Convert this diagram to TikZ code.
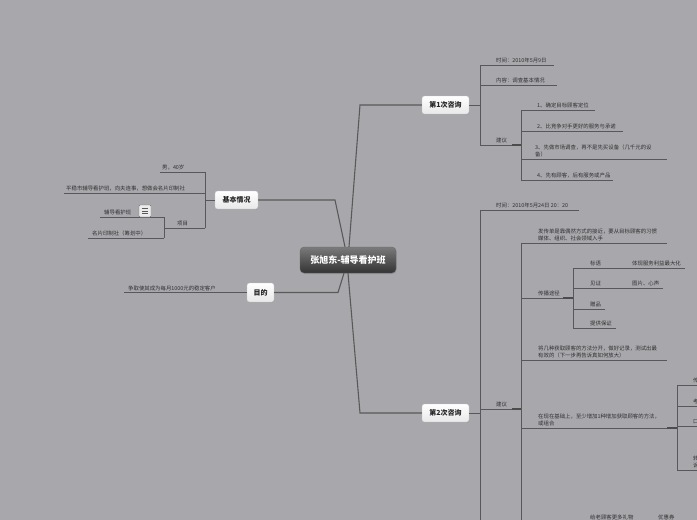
\documentclass[tikz,border=0pt]{standalone}
\usepackage{fontspec}
\setmainfont{Noto Sans CJK SC}
\usetikzlibrary{shadows}
\definecolor{bg}{HTML}{A8A8AC}
\definecolor{ln}{HTML}{58585C}
\definecolor{tx}{HTML}{303032}
\tikzset{
  leaf/.style={font=\fontsize{5.4}{7.6}\selectfont, text=tx, inner sep=0pt, anchor=south west, align=left},
  uline/.style={draw=ln, line width=0.7pt},
  thick/.style={draw=black!70, line width=1.4pt},
  mainline/.style={draw=black!65, line width=1.1pt},
  topic/.style={rounded corners=2.5pt, top color=white, bottom color=black!9, draw=black!22, line width=0.3pt,
    minimum width=47pt, minimum height=18pt, inner sep=0pt, font=\fontsize{7}{8}\selectfont\bfseries, text=black!85,
    drop shadow={opacity=0.25, shadow xshift=0.6pt, shadow yshift=-0.8pt}},
  root/.style={rounded corners=4pt, top color=black!52, bottom color=black!80, draw=black!60, line width=0.3pt,
    minimum width=96pt, minimum height=26pt, inner sep=0pt, font=\fontsize{9}{10}\selectfont\bfseries, text=white,
    drop shadow={opacity=0.3, shadow xshift=0.8pt, shadow yshift=-1pt}},
  iconbox/.style={draw=black!55, rounded corners=1pt, fill=black!8, minimum width=12pt, minimum height=12pt, inner sep=0pt}
}
\begin{document}
\begin{tikzpicture}[x=1pt,y=-1pt]
\useasboundingbox (0,0) rectangle (697,520);
\fill[bg] (0,0) rectangle (697,520);
\clip (0,0) rectangle (697,520);

% ---------- main nodes ----------
\node[root] (root) at (348,260) {张旭东-辅导看护班};
\node[topic] (c1) at (445.5,105) {第1次咨询};
\node[topic] (c2) at (445.5,413) {第2次咨询};
\node[topic, minimum width=43pt] (basic) at (236.5,200) {基本情况};
\node[topic, minimum width=27pt, minimum height=19pt] (goal) at (260.5,292.5) {目的};

% ---------- main connectors ----------
\draw[mainline] (root.north) ++(1,0) coordinate (r1) -- (360,105) -- (c1.west);
\draw[mainline] (root.south) ++(0,0) coordinate (r2) -- (360,413) -- (c2.west);
\draw[mainline] (root.north) ++(-3,0) coordinate (r3) -- (335,200) -- (basic.east);
\draw[mainline] (root.south) ++(-4,0) coordinate (r4) -- (338,292.5) -- (goal.east);

% ---------- 基本情况 ----------
\coordinate (bv1) at (205,172);
\coordinate (bv2) at (205,228);
\draw[uline] (basic.west) -- (205,200);
\draw[uline] (bv1) -- (bv2);
\node[leaf] (b1) at (162,170.5) {男，40岁};
\draw[uline] (160,172) -- (bv1);
\node[leaf] (b2) at (66,191.5) {平稳市辅导看护班，向夫连事，想做会名片印制社};
\draw[uline] (64,193) -- (205,193);
\node[leaf] (b3) at (177,226.5) {项目};
\coordinate (pv1) at (164,217);
\coordinate (pv2) at (164,238);
\draw[uline] (pv2 |- bv2) -- (bv2);
\draw[uline] (pv1) -- (pv2);
\node[leaf] (b31) at (104,215.5) {辅导看护班};
\draw[uline] (100,217) -- (pv1);
\node[iconbox] (icon) at (145,211) {};
\foreach \dy in {-2.5,0,2.5} \draw[black!65, line width=0.5pt] ([xshift=-3pt,yshift=\dy pt]icon.center) -- ([xshift=3pt,yshift=\dy pt]icon.center);
\node[leaf] (b32) at (92,236.5) {名片印制社（筹划中）};
\draw[uline] (88,238) -- (pv2);

% ---------- 目的 ----------
\node[leaf] (g1) at (128,291) {争取使其成为每月1000元的稳定客户};
\draw[uline] (124,292.5) -- (goal.west);

% ---------- 第1次咨询 ----------
\draw[uline] (c1.east) -- (480,105);
\draw[uline] (480,65) -- (480,145);
\node[leaf] (t1) at (496,63.5) {时间：2010年5月9日};
\draw[uline] (480,65) -- (554,65);
\node[leaf] (t2) at (496,83.5) {内容：调查基本情况};
\draw[uline] (480,85) -- (557,85);
\node[leaf] (t3) at (496,143.5) {建议};
\draw[uline] (480,145) -- (512,145);
\draw[thick] (512,145) -- (521,145);
\draw[uline] (521,110) -- (521,180);
\node[leaf] (s1) at (537,108.5) {1、确定目标顾客定位};
\draw[uline] (521,110) -- (595,110);
\node[leaf] (s2) at (537,129.5) {2、比竞争对手更好的服务与承诺};
\draw[uline] (521,131) -- (623,131);
\node[leaf] (s3) at (535,157.5) {3、先做市场调查，再不是先买设备（几千元的设\\备）};
\draw[uline] (521,159) -- (667,159);
\node[leaf] (s4) at (537,178.5) {4、先有顾客，后有服务或产品};
\draw[uline] (521,180) -- (613,180);

% ---------- 第2次咨询 ----------
\draw[uline] (c2.east) -- (480,413);
\draw[uline] (480,210) -- (480,525);
\node[leaf] (u1) at (496,208.5) {时间：2010年5月24日 20：20};
\draw[uline] (480,210) -- (579,210);
\node[leaf] (u2) at (496,407.5) {建议};
\draw[uline] (480,409) -- (512,409);
\draw[thick] (512,409) -- (521,409);
\draw[uline] (521,243) -- (521,525);

\node[leaf] (v1) at (538,241.5) {发传单是靠偶然方式的接近，要从目标顾客的习惯\\媒体、组织、社会领域入手};
\draw[uline] (521,243) -- (667,243);

\node[leaf] (v2) at (538,296.5) {传播途径};
\draw[uline] (521,298) -- (563,298);
\draw[thick] (563,298) -- (573,298);
\draw[uline] (573,268) -- (573,328);
\node[leaf] (w1) at (590,266.5) {标语};
\node[leaf] (w1a) at (632,266.5) {体现服务利益最大化};
\draw[uline] (573,268) -- (685,268);
\node[leaf] (w2) at (590,286.5) {见证};
\node[leaf] (w2a) at (632,286.5) {图片、心声};
\draw[uline] (573,288) -- (663,288);
\node[leaf] (w3) at (590,307.5) {赠品};
\draw[uline] (573,309) -- (605,309);
\node[leaf] (w4) at (590,326.5) {提供保证};
\draw[uline] (573,328) -- (616,328);

\node[leaf] (v3) at (538,358.5) {将几种获取顾客的方法分开，做好记录，测试出最\\有效的（下一步再告诉真如何放大）};
\draw[uline] (521,360) -- (667,360);

\node[leaf] (v4) at (538,426.5) {在现在基础上，至少增加1种增加获取顾客的方法，\\或组合};
\draw[uline] (521,428) -- (667,428);
\draw[thick] (667,428) -- (677,428);
\draw[uline] (677,385) -- (677,470);
\node[leaf] (x1) at (693,383.5) {传单};
\draw[uline] (677,385) -- (700,385);
\node[leaf] (x2) at (693,404.5) {考试};
\draw[uline] (677,406) -- (700,406);
\node[leaf] (x3) at (693,424.5) {口碑};
\draw[uline] (677,426) -- (700,426);
\node[leaf] (x4) at (693,468.5) {转介绍\\诉求};
\draw[uline] (677,470) -- (700,470);

\node[leaf] (y1) at (590,520) {给老顾客更多礼物};
\node[leaf] (y2) at (658,520) {优惠券};
\end{tikzpicture}
\end{document}
